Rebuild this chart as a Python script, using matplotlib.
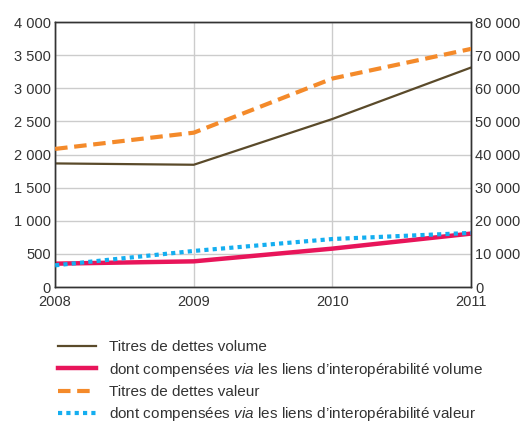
import matplotlib
matplotlib.use("Agg")
import matplotlib.pyplot as plt
from matplotlib.lines import Line2D
from matplotlib.ticker import FuncFormatter

# data
years = [2008, 2009, 2010, 2011]
volume = [1866, 1846, 2537, 3314]            # left axis
volume_interop = [353, 388, 580, 807]        # left axis
valeur = [41700, 46600, 62950, 71900]        # right axis
valeur_interop = [6550, 10900, 14500, 16350] # right axis

left_ticks = list(range(0, 4001, 500))
right_ticks = list(range(0, 80001, 10000))

labels = [
    "Titres de dettes volume",
    "dont compensées $\\mathit{via}$ les liens d\u2019interopérabilité volume",
    "Titres de dettes valeur",
    "dont compensées $\\mathit{via}$ les liens d\u2019interopérabilité valeur",
]

font = "Liberation Sans"
plt.rcParams["font.family"] = [font, "DejaVu Sans"]
plt.rcParams["mathtext.fontset"] = "custom"
plt.rcParams["mathtext.rm"] = font
plt.rcParams["mathtext.it"] = font + ":italic"

c_brown = "#5a4a2a"
c_pink = "#e8155a"
c_orange = "#f48a2a"
c_blue = "#14aef0"
c_text = "#333333"

fig = plt.figure(figsize=(5.2, 4.24), dpi=100)
ax = fig.add_axes([0.106, 0.323, 0.800, 0.625])
ax2 = ax.twinx()

sep = lambda v, p: "{:,}".format(int(v)).replace(",", " ")

ax.plot(years, volume, color=c_brown, lw=1.6, zorder=3)
ax.plot(years, volume_interop, color=c_pink, lw=3.2, zorder=3)
ax2.plot(years, valeur, color=c_orange, lw=3.0, dashes=(3, 1.6), zorder=3)
ax2.plot(years, valeur_interop, color=c_blue, lw=3.0, dashes=(1.0, 1.0), zorder=3)

ax.set_xlim(2008, 2011)
ax.set_ylim(0, 4000)
ax2.set_ylim(0, 80000)
ax.set_xticks(years)
ax.set_yticks(left_ticks)
ax2.set_yticks(right_ticks)
ax.yaxis.set_major_formatter(FuncFormatter(sep))
ax2.yaxis.set_major_formatter(FuncFormatter(sep))

ax.grid(True, color="#cccccc", lw=1.0)
ax.set_axisbelow(True)
for a in (ax, ax2):
    for s in a.spines.values():
        s.set_color("#333333")
        s.set_linewidth(1.0)
    a.tick_params(length=0, labelsize=10.5, colors=c_text, pad=3)
ax.tick_params(axis="x", pad=6)

handles = [
    Line2D([], [], color=c_brown, lw=1.6),
    Line2D([], [], color=c_pink, lw=3.2),
    Line2D([], [], color=c_orange, lw=3.0, dashes=(3, 1.6)),
    Line2D([], [], color=c_blue, lw=3.0, dashes=(1.0, 1.0)),
]
leg = fig.legend(handles, labels, loc="upper left", bbox_to_anchor=(0.1, 0.212),
                 frameon=False, fontsize=11, handlelength=2.5, handletextpad=0.8,
                 labelspacing=0.42, borderaxespad=0)
for t in leg.get_texts():
    t.set_color(c_text)

fig.savefig("out.png", dpi=100)
